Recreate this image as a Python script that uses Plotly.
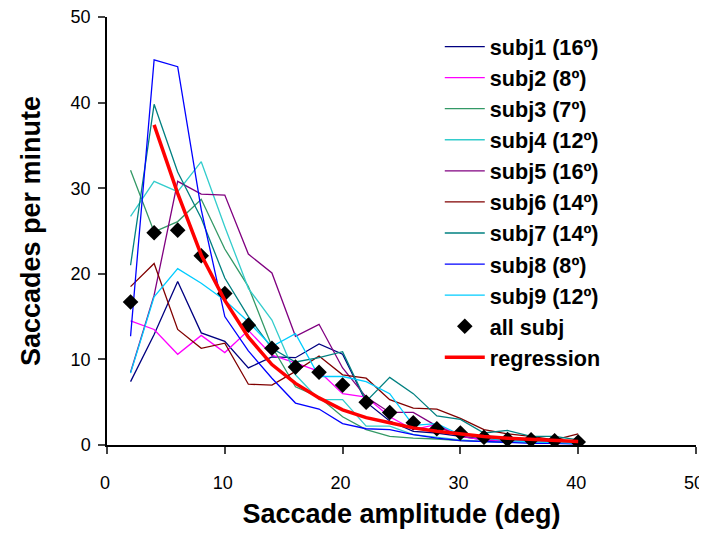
import plotly.graph_objects as go

amplitude = [2, 4, 6, 8, 10, 12, 14, 16, 18, 20, 22, 24, 26, 28, 30, 32, 34, 36, 38, 40]

subj1 = [7.4, 12.9, 19.1, 13.1, 12.1, 9.0, 10.3, 10.2, 11.8, 10.6, 5.0, 2.8, 1.6, 1.4, 1.0, 0.6, 0.4, 0.3, 0.2, 0.2]
subj2 = [14.5, 13.5, 10.6, 12.8, 10.8, 13.4, 10.5, 9.6, 8.6, 6.0, 5.6, 3.3, 1.8, 2.4, 1.0, 0.6, 0.5, 0.4, 0.3, 0.2]
subj3 = [32.1, 24.9, 26.1, 28.7, 22.9, 18.5, 11.5, 6.8, 5.6, 3.3, 1.8, 1.0, 0.8, 0.7, 0.5, 0.4, 0.3, 0.3, 0.2, 0.2]
subj4 = [26.7, 30.8, 29.6, 33.1, 25.5, 18.3, 14.6, 8.2, 5.3, 5.3, 2.2, 2.2, 1.2, 0.9, 0.6, 0.4, 0.3, 0.3, 0.3, 0.2]
subj5 = [8.5, 17.5, 30.8, 29.3, 29.2, 22.3, 20.1, 12.7, 14.1, 9.0, 5.6, 3.8, 3.8, 2.2, 1.0, 0.8, 0.5, 0.5, 0.4, 0.3]
subj6 = [18.5, 21.2, 13.5, 11.3, 11.9, 7.1, 7.0, 8.6, 10.4, 8.2, 7.8, 5.3, 4.3, 4.2, 3.1, 1.8, 1.3, 1.0, 0.6, 1.3]
subj7 = [21.0, 39.8, 31.9, 26.5, 19.5, 15.0, 11.3, 9.7, 10.2, 10.9, 5.1, 7.9, 6.0, 3.4, 3.0, 1.4, 1.7, 1.0, 1.0, 0.6]
subj8 = [12.7, 45.0, 44.2, 27.5, 15.0, 11.0, 7.8, 4.9, 4.2, 2.5, 1.9, 1.8, 1.2, 0.8, 0.5, 0.4, 0.3, 0.2, 0.2, 0.1]
subj9 = [8.4, 17.3, 20.6, 18.9, 16.9, 14.4, 11.5, 13.0, 8.0, 8.0, 7.4, 6.0, 2.3, 2.5, 1.2, 0.8, 0.5, 0.4, 0.3, 0.2]

all_subj = [16.7, 24.8, 25.1, 22.1, 17.7, 14.0, 11.3, 9.1, 8.5, 7.0, 5.0, 3.8, 2.6, 1.9, 1.4, 0.9, 0.65, 0.6, 0.5, 0.35]

reg_x = [4, 6, 8, 10, 12, 14, 16, 18, 20, 22, 24, 26, 28, 30, 32, 34, 36, 38, 40]
regression = [37.4, 29.4, 22.2, 16.9, 12.6, 9.4, 7.2, 5.5, 4.1, 3.2, 2.6, 2.0, 1.6, 1.25, 1.0, 0.8, 0.65, 0.5, 0.4]

names = ["subj1 (16º)", "subj2 (8º)", "subj3 (7º)", "subj4 (12º)", "subj5 (16º)",
         "subj6 (14º)", "subj7 (14º)", "subj8 (8º)", "subj9 (12º)"]
series = [subj1, subj2, subj3, subj4, subj5, subj6, subj7, subj8, subj9]
colors = ["#000080", "#FF00FF", "#339966", "#33CCCC", "#800080",
          "#800000", "#008080", "#0000FF", "#00CCFF"]

fig = go.Figure()
for n, s, c in zip(names, series, colors):
    fig.add_trace(go.Scatter(x=amplitude, y=s, name=n, mode="lines",
                             line=dict(color=c, width=1.3)))

fig.add_trace(go.Scatter(x=amplitude, y=all_subj, name="all subj", mode="markers",
                         marker=dict(symbol="diamond", color="black", size=12)))
fig.add_trace(go.Scatter(x=reg_x, y=regression, name="regression", mode="lines",
                         line=dict(color="#FF0000", width=3.5)))

font_family = "Liberation Sans, Arial, sans-serif"

fig.update_layout(
    width=699, height=521,
    margin=dict(l=99, r=11, t=9, b=84),
    paper_bgcolor="white", plot_bgcolor="white",
    font=dict(family=font_family, color="black"),
    showlegend=True,
    legend=dict(x=0.565, y=0.979, xanchor="left", yanchor="top",
                bgcolor="rgba(0,0,0,0)", itemwidth=40,
                font=dict(size=21.6, family=font_family, color="black", weight="bold")),
    xaxis=dict(range=[0, 50], tickvals=[0, 10, 20, 30, 40, 50], showgrid=False, zeroline=False,
               automargin=False, ticklabeloverflow="allow", ticklabelshift=-2,
               showline=True, linecolor="black", linewidth=1.5,
               ticks="outside", ticklen=7, tickcolor="#444", tickwidth=1.5,
               tickfont=dict(size=18), ticklabelstandoff=14,
               title=dict(text="Saccade amplitude (deg)", standoff=12,
                          font=dict(size=27, weight="bold"))),
    yaxis=dict(range=[0, 50], tickvals=[0, 10, 20, 30, 40, 50], showgrid=False, zeroline=False,
               automargin=False, ticklabeloverflow="allow",
               showline=True, linecolor="black", linewidth=1.5,
               ticks="outside", ticklen=7, tickcolor="#444", tickwidth=1.5,
               tickfont=dict(size=18), ticklabelstandoff=4,
               title=dict(text="Saccades per minute", standoff=22,
                          font=dict(size=27, weight="bold"))),
)

fig.write_html("out.html")
